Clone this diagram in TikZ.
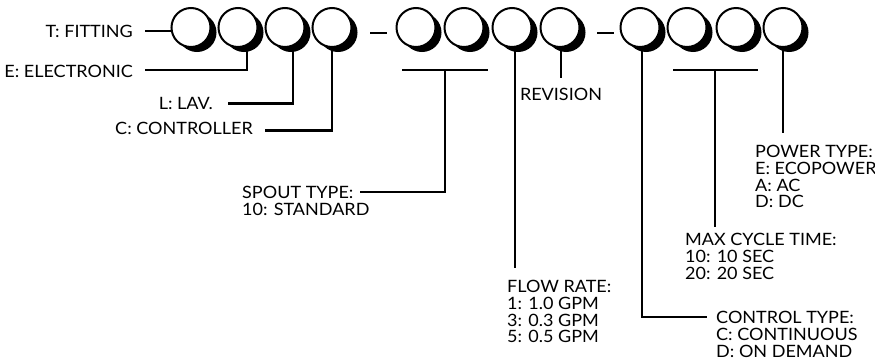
\documentclass[tikz,border=0pt]{standalone}
\usepackage{fontspec}
\setmainfont{Lato}[FakeStretch=1.06]
\usetikzlibrary{calc}
\newcommand{\lbfont}{\fontsize{17}{16.8}\selectfont}
\begin{document}
\begin{tikzpicture}[x=1pt,y=-1pt,
  lbl/.style={inner sep=0pt, font=\lbfont, align=left},
  conn/.style={line width=2.6pt},
  digit/.style={circle, minimum size=39pt, inner sep=0pt, draw=black, line width=2pt, fill=white},
  shade/.style={circle, minimum size=39pt, inner sep=0pt, fill=black}]
\useasboundingbox (0,0) rectangle (875,362);
% shadows
\foreach \n/\x in {a1/191,a2/238,a3/285,a4/332,b1/416,b2/464,b3/512,b4/560,c1/640,c2/687,c3/736,c4/783}{
  \node[shade] (s\n) at (\x+6,27.5+5) {};
}
\foreach \n/\x in {a1/191,a2/238,a3/285,a4/332,b1/416,b2/464,b3/512,b4/560,c1/640,c2/687,c3/736,c4/783}{
  \node[digit] (\n) at (\x,27.5) {};
}
% dashes
\coordinate (d1a) at (370,33); \coordinate (d1b) at (387,33);
\coordinate (d2a) at (597,33); \coordinate (d2b) at (614,33);
\draw[line width=2.2pt] (d1a) -- (d1b);
\draw[line width=2.2pt] (d2a) -- (d2b);
% left labels
\node[lbl, anchor=base east] (lT) at (133,37) {T: FITTING};
\node[lbl, anchor=base east] (lE) at (133,77.5) {E: ELECTRONIC};
\node[lbl, anchor=base east] (lL) at (213,109) {L: LAV.};
\node[lbl, anchor=base east] (lC) at (253,134) {C: CONTROLLER};
\coordinate (tT) at (145,31);
\coordinate (tE) at (145,70);
\coordinate (tL) at (228,103.5);
\coordinate (tC) at (265,130.5);
\draw[conn] (tT) -- (a1.west |- tT);
\draw[conn] (tE) -| ([xshift=9pt]a2.south);
\draw[conn] (tL) -| ([xshift=8pt]a3.south);
\draw[conn] (tC) -| (a4.south);
% spout
\coordinate (spL) at (402,70); \coordinate (spR) at (488,70); \coordinate (spM) at (445,70);
\coordinate (spT) at (360,192);
\draw[conn] (spL) -- (spR);
\draw[conn] (spT) -| (spM);
\node[lbl, anchor=north west] (lSp) at (242,186) {SPOUT TYPE:\\10: STANDARD};
% flow
\coordinate (flE) at (515,268);
\draw[conn] ([xshift=3pt]b3.south) -- (flE);
\node[lbl, anchor=north west] (lFl) at (507,280) {FLOW RATE:\\1: 1.0 GPM\\3: 0.3 GPM\\5: 0.5 GPM};
% revision
\coordinate (rvE) at (561,78);
\draw[conn] ([xshift=1pt]b4.south) -- (rvE);
\node[lbl, anchor=north] (lRv) at (561,88) {REVISION};
% control
\coordinate (ctE) at (707,317);
\draw[conn] ([xshift=2pt]c1.south) |- (ctE);
\node[lbl, anchor=north west] (lCt) at (716,311) {CONTROL TYPE:\\C: CONTINUOUS\\D: ON DEMAND};
% max cycle
\coordinate (mcL) at (673,70); \coordinate (mcR) at (758,70); \coordinate (mcM) at (715,70);
\coordinate (mcE) at (715,227);
\draw[conn] (mcL) -- (mcR);
\draw[conn] (mcM) -- (mcE);
\node[lbl, anchor=north west] (lMc) at (685,233) {MAX CYCLE TIME:\\10: 10 SEC\\20: 20 SEC};
% power
\coordinate (pwE) at (783,133);
\draw[conn] (c4.south) -- (pwE);
\node[lbl, anchor=north west] (lPw) at (755,145) {POWER TYPE:\\E: ECOPOWER\\A: AC\\D: DC};
\end{tikzpicture}
\end{document}
